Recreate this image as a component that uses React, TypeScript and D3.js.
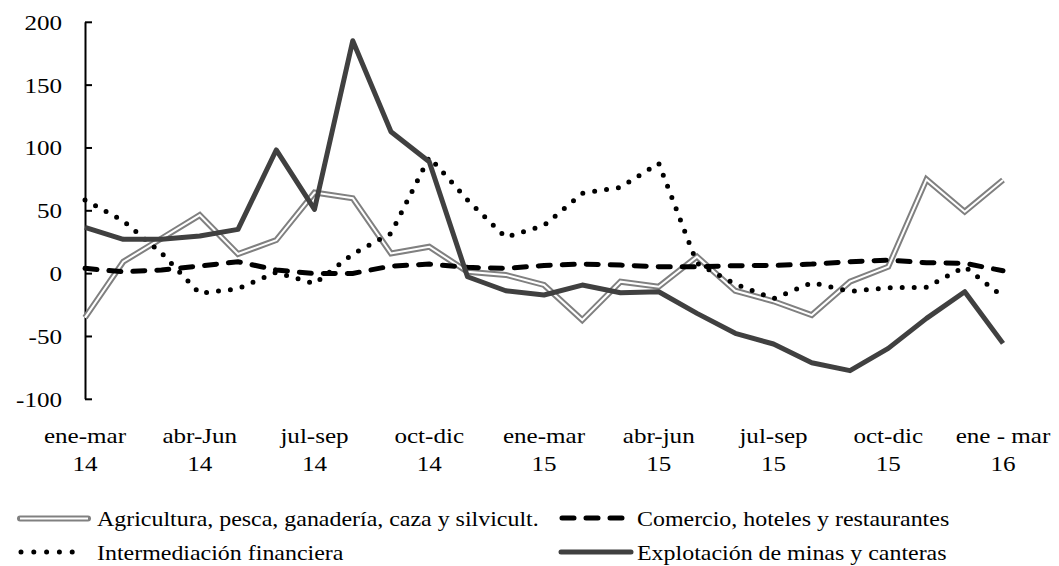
import React from "react";
import * as d3 from "d3";

const W = 1059;
const H = 566;

// rolling quarterly periods (monthly steps), labels every third point
const periods = [
  "ene-mar 14", "feb-abr 14", "mar-may 14", "abr-jun 14", "may-jul 14", "jun-ago 14",
  "jul-sep 14", "ago-oct 14", "sep-nov 14", "oct-dic 14", "nov-ene 15", "dic-feb 15",
  "ene-mar 15", "feb-abr 15", "mar-may 15", "abr-jun 15", "may-jul 15", "jun-ago 15",
  "jul-sep 15", "ago-oct 15", "sep-nov 15", "oct-dic 15", "nov-ene 16", "dic-feb 16",
  "ene-mar 16",
];
const tickTop = ["ene-mar", "abr-Jun", "jul-sep", "oct-dic", "ene-mar", "abr-jun", "jul-sep", "oct-dic", "ene - mar"];
const tickBottom = ["14", "14", "14", "14", "15", "15", "15", "15", "16"];
const yTicks = [-100, -50, 0, 50, 100, 150, 200];

const agricultura = [-35, 9.5, 28, 46.6, 15.6, 26.7, 64.5, 60, 16, 21.4, 1.5, -1, -9, -36.9, -6.4, -10.4, 13.5, -13.6, -22, -33, -6.4, 5.5, 75, 49.3, 74.5];
const comercio = [4.2, 1.5, 2.9, 6, 9.5, 2.9, 0, 0.2, 6, 7.6, 5, 4.2, 6.5, 7.6, 6.8, 5.5, 5.5, 6.3, 6.5, 7.6, 9.5, 10.8, 8.7, 8.2, 2.3];
const intermediacion = [58.6, 42, 16.4, -15.7, -12, 1, -8, 15.6, 32, 92.8, 58.6, 28.9, 38.3, 63.9, 68.7, 87.8, 8.2, -8.3, -20, -7.2, -14.1, -11.2, -10.9, 5.5, -18.4];
const explotacion = [36.8, 27.3, 27.3, 29.9, 35.2, 98.4, 51.2, 185.3, 112.9, 89, -2.5, -13.6, -17, -9.1, -15.2, -14.4, -31.6, -47.5, -56, -70.9, -77.2, -59.5, -35.6, -14.4, -55.5];

const SX = 1.14;

function T({ x, y, anchor = "start", size = 22, children }: any) {
  return (
    <text
      transform={`translate(${x},${y}) scale(${SX},1)`}
      textAnchor={anchor}
      style={{ fontFamily: "Liberation Serif, Times New Roman, DejaVu Serif, serif", fontSize: size }}
      fill="#000"
    >
      {children}
    </text>
  );
}

export default function App() {
  const x = d3.scaleLinear().domain([0, periods.length - 1]).range([85, 1003]);
  const y = d3.scaleLinear().domain([-100, 200]).range([399.3, 22.3]);
  const line = d3
    .line<number>()
    .x((_, i) => x(i))
    .y((d) => y(d));

  const labelIdx = tickTop.map((_, k) => k * 3);

  return (
    <svg
      width={W}
      height={H}
      style={{ position: "absolute", left: 0, top: 0, background: "#fff" }}
    >
      {/* y axis */}
      <line x1={85.5} x2={85.5} y1={y(200)} y2={y(-100)} stroke="#000" strokeWidth={2} />
      {yTicks.map((t) => (
        <g key={t}>
          <line x1={85} x2={92} y1={y(t)} y2={y(t)} stroke="#000" strokeWidth={2} />
          <T x={62} y={y(t) + 7.5} anchor="end">
            {t}
          </T>
        </g>
      ))}
      {/* x labels */}
      {labelIdx.map((i, k) => (
        <g key={i}>
          <T x={x(i)} y={443} anchor="middle">
            {tickTop[k]}
          </T>
          <T x={x(i)} y={471} anchor="middle">
            {tickBottom[k]}
          </T>
        </g>
      ))}

      {/* series */}
      <path d={line(agricultura) || ""} fill="none" stroke="#808080" strokeWidth={6} strokeLinejoin="miter" />
      <path d={line(agricultura) || ""} fill="none" stroke="#fff" strokeWidth={2} strokeLinejoin="miter" />
      <path d={line(comercio) || ""} fill="none" stroke="#000" strokeWidth={5} strokeDasharray="12 12" strokeLinecap="round" />
      <path d={line(intermediacion) || ""} fill="none" stroke="#000" strokeWidth={5} strokeDasharray="0 12" strokeLinecap="round" />
      <path d={line(explotacion) || ""} fill="none" stroke="#404040" strokeWidth={5} strokeLinejoin="round" />

      {/* legend */}
      <line x1={20} x2={88} y1={518.5} y2={518.5} stroke="#808080" strokeWidth={6} strokeLinecap="round" />
      <line x1={20} x2={88} y1={518.5} y2={518.5} stroke="#fff" strokeWidth={2} />
      <T x={97} y={526} size={21}>Agricultura, pesca, ganadería, caza y silvicult.</T>

      <line x1={562} x2={630} y1={518} y2={518} stroke="#000" strokeWidth={5} strokeDasharray="12 12" strokeLinecap="round" />
      <T x={637} y={526} size={21}>Comercio, hoteles y restaurantes</T>

      <line x1={21} x2={85} y1={552} y2={552} stroke="#000" strokeWidth={5} strokeDasharray="0 12.8" strokeLinecap="round" />
      <T x={97} y={560} size={21}>Intermediación financiera</T>

      <line x1={561} x2={631} y1={552} y2={552} stroke="#404040" strokeWidth={5} strokeLinecap="round" />
      <T x={637} y={560} size={21}>Explotación de minas y canteras</T>
    </svg>
  );
}
